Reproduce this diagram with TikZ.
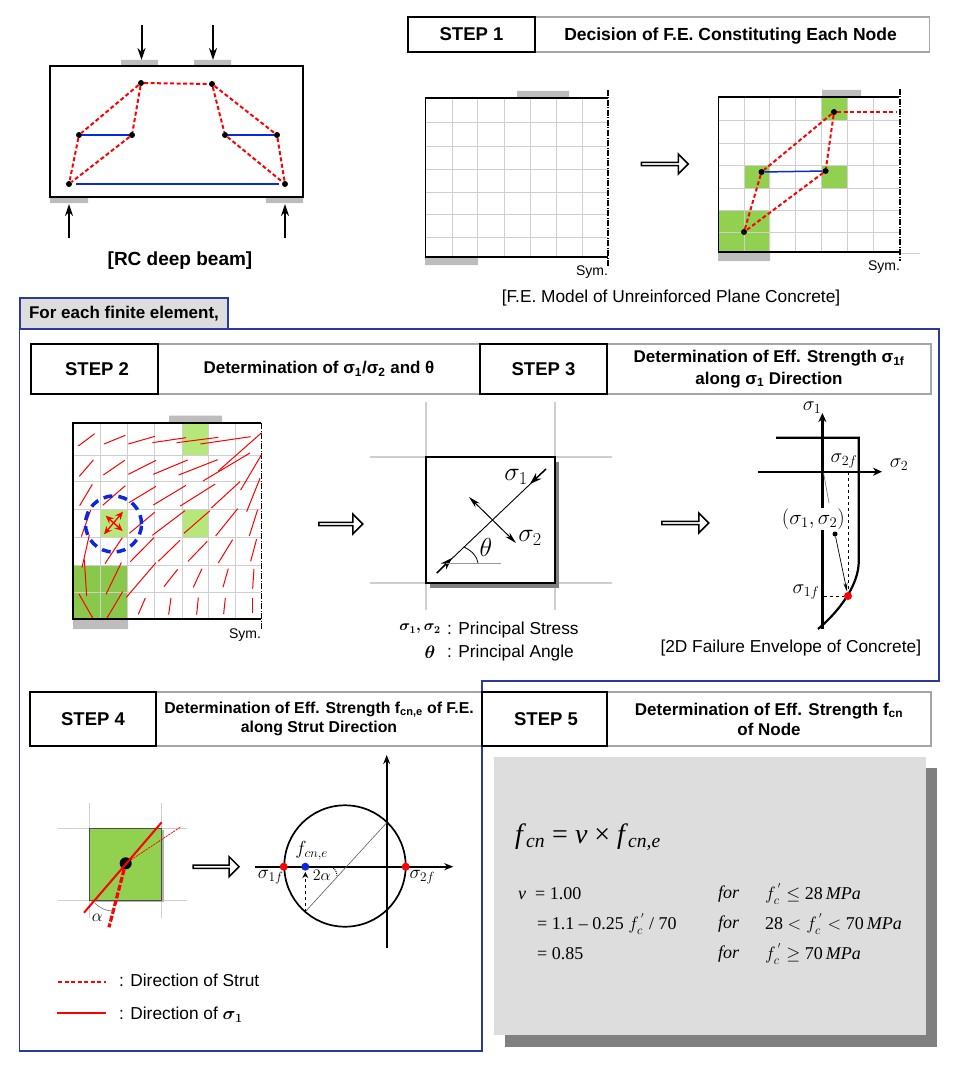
\documentclass[tikz,border=0pt]{standalone}
\usepackage{fix-cm}
\usepackage[no-math]{fontspec}
\setmainfont{Liberation Sans}
\newfontfamily\timesf{Liberation Serif}
\usepackage{amsmath}
\usepackage{tikz}
\usetikzlibrary{calc}
\usetikzlibrary{arrows.meta}
\usetikzlibrary{shapes.arrows}
\definecolor{platecol}{HTML}{BDBDBD}
\definecolor{gridcol}{HTML}{CFCFCF}
\definecolor{leafcol}{HTML}{92D050}
\definecolor{palecol}{HTML}{B5E77B}
\definecolor{deepcol}{HTML}{8AC84C}
\definecolor{framecol}{HTML}{2B3A9B}
\definecolor{panelcol}{HTML}{DDDDDD}
\definecolor{shadowcol}{HTML}{808080}
\definecolor{tiecol}{HTML}{0A28E0}
\newcommand{\fs}[1]{\fontsize{#1}{#1}\selectfont}
\tikzstyle{dot}=[circle,fill=black, minimum size = 6pt, inner sep=0pt]
\tikzstyle{plate}=[fill=platecol, draw=none]
\tikzstyle{strut}=[draw=red, line width=2pt, dash pattern=on 4pt off 2.5pt]
\tikzstyle{tie}=[tiecol, line width=1.5pt]
\tikzstyle{load}=[line width=2pt, -{Stealth[length=12pt,width=8pt]}]
\tikzstyle{gridline}=[gridcol, line width=1pt]
\tikzstyle{stepbox}=[draw=black, fill=white, line width=1.3pt, inner sep=0pt, font=\fs{18.5}\bfseries, align=center]
\tikzstyle{titlebox}=[draw=gray!70, fill=white, line width=1.3pt, inner sep=0pt, font=\fs{17}\bfseries, align=center]
\tikzstyle{hollow}=[draw=black, fill=white, line width=1.5pt, single arrow, minimum height=47pt, minimum width=20pt, single arrow head extend=4pt, single arrow head indent=0pt, inner sep=0pt]
\tikzstyle{lbl}=[inner sep=0pt, font=\fs{17.3}]
\tikzstyle{greek}=[inner sep=0pt, font=\fs{18}]
\tikzstyle{eqn}=[inner sep=0pt, anchor=west, font=\fs{18}\timesf]
\begin{document}
\begin{tikzpicture}[x=1pt,y=-1pt]
  \useasboundingbox (0,0) rectangle (958,1070);
  % deep beam
  \fill [plate] (121,60) rectangle (158,66) (194,60) rectangle (231,66) (50,197) rectangle (88,203) (266,197) rectangle (303,203);
  \draw [line width=2.5pt] (50,66) rectangle (303,197);
  \node (beamA) [dot] at (141,83) {};
  \node (beamB) [dot] at (212,84) {};
  \node (beamC) [dot] at (79,135) {};
  \node (beamD) [dot] at (132,135) {};
  \node (beamE) [dot] at (225,135) {};
  \node (beamF) [dot] at (277,135) {};
  \node (beamG) [dot] at (69,184) {};
  \node (beamH) [dot] at (285,184) {};
  \draw [strut] (beamA) -- (beamB);
  \draw [strut] (beamA) -- (beamC);
  \draw [strut] (beamA) -- (beamD);
  \draw [strut] (beamC) -- (beamG);
  \draw [strut] (beamD) -- (beamG);
  \draw [strut] (beamB) -- (beamE);
  \draw [strut] (beamB) -- (beamF);
  \draw [strut] (beamE) -- (beamH);
  \draw [strut] (beamF) -- (beamH);
  \draw [tie] (beamC) -- (beamD);
  \draw [tie] (beamE) -- (beamF);
  \draw [tie] ($(beamG)+(7,0)$) -- ($(beamH)+(-6,0)$);
  \foreach \x/\ya/\yb/\nm in {141.5/25/60/a,213/25/60/b,69/238/204/c,285/238/204/d} {
    \coordinate (from\nm) at (\x,\ya);
    \coordinate (to\nm) at (\x,\yb);
    \draw [load] (from\nm) -- (to\nm);
  }
  \node (beamcap) [inner sep=0pt, font=\fs{19}\bfseries] at (180,261) {[RC deep beam]};

  % step 1
  \node (titleone) [titlebox, minimum width=395pt, minimum height=35pt] at (732,34.5) {};
  \node (stepone) [stepbox, minimum width=127pt, minimum height=35pt] at (471.5,34.5) {STEP 1};
  \node (titleonetext) at (730.5,36) [inner sep=0pt, font=\fs{17.5}\bfseries] {Decision of F.E. Constituting Each Node};
  % plain model
  \fill [plate] (517,91) rectangle (569,98) (425,258) rectangle (478,265);
  \foreach \x in {452,477.6,504,530,556.6,582.6} \draw [gridline] (\x,98) -- (\x,257);
  \foreach \y in {123,146,169,192,214,237} \draw [gridline] (425,\y) -- (608,\y);
  \draw [line width=1.8pt] (608,98) -- (425.5,98) -- (425.5,257) -- (608,257);
  \draw [line width=1.2pt, dash pattern=on 6pt off 1.5pt on 1pt off 1.5pt] (608,90) -- (608,266);
  \node (symA) [lbl, font=\fs{14}] at (592,272) {Sym.};
  \node (arrowA) [hollow] at (664,164) {};
  % model with nodes
  \fill [plate] (822,90) rectangle (861,97) (718,252) rectangle (770,261);
  \fill [leafcol] (821,97) rectangle (847,120.7) (744,165) rectangle (770,188) (821,165) rectangle (847,188) (718,210) rectangle (770,252);
  \foreach \x in {744,769.5,795,821,847,873} \draw [gridline] (\x,97) -- (\x,252);
  \foreach \y in {120.7,143,165,188,210,232} \draw [gridline] (718,\y) -- (899,\y);
  \draw [gridline, line width=.6pt] (899,253) -- (920,253);
  \draw [line width=1.8pt] (899,97) -- (718.5,97) -- (718.5,252) -- (899,252);
  \draw [line width=1.2pt, dash pattern=on 6pt off 1.5pt on 1pt off 1.5pt] (900,89) -- (900,261);
  \node (nodeA) [dot] at (834,112) {};
  \node (nodeB) [dot] at (761.5,172) {};
  \node (nodeC) [dot] at (825.6,171) {};
  \node (nodeD) [dot] at (744,232) {};
  \coordinate (nodeE) at (896,112);
  \draw [strut] (nodeA) -- (nodeE);
  \draw [strut] (nodeA) -- (nodeB);
  \draw [strut] (nodeA) -- (nodeC);
  \draw [strut] (nodeB) -- (nodeD);
  \draw [strut] (nodeC) -- (nodeD);
  \draw [tie] (nodeB) -- (nodeC);
  \node (symB) [lbl, font=\fs{14}] at (884,267) {Sym.};
  \node (modelcap) [lbl] at (671,298) {[F.E. Model of Unreinforced Plane Concrete]};

  % frame for the element steps
  \draw [framecol, line width=1.2pt] (19.5,329) -- (939,329) -- (939,681) -- (482,681) -- (482,1051) -- (19.5,1051) -- cycle;
  \node (foreach) [draw=framecol, fill=panelcol, line width=1.2pt, minimum width=208pt, minimum height=31pt, inner sep=0pt, font=\fs{17}\bfseries] at (124,313.5) {\raisebox{-3pt}{For each finite element,}};

  % legend
  \coordinate (dashA) at (58.3,981.7);
  \coordinate (dashB) at (106,981.7);
  \coordinate (solidA) at (56.7,1013.3);
  \coordinate (solidB) at (106,1013.3);
  \draw [strut] (dashA) -- (dashB);
  \draw [draw=red, line width=2pt] (solidA) -- (solidB);
  \node (dashlbl) [lbl, anchor=west] at (119,980) {: Direction of Strut};
  \node (solidlbl) [lbl, anchor=west] at (119,1014.5) {: Direction of {\fs{18}$\boldsymbol{\sigma_1}$}};

  % step 2 and step 3
  \node (titletwo) [titlebox, minimum width=322pt, minimum height=50pt] at (319,369) {\raisebox{-1pt}{Determination of σ\textsubscript{1}/σ\textsubscript{2} and θ}};
  \node (titlethree) [titlebox, minimum width=324pt, minimum height=50pt] at (769,369) {Determination of Eff. Strength σ\textsubscript{1f}\\[5pt]along σ\textsubscript{1} Direction};
  \node (steptwo) [stepbox, minimum width=127pt, minimum height=50pt] at (94.5,369) {\hspace*{5pt}STEP 2};
  \node (stepthree) [stepbox, minimum width=127pt, minimum height=50pt] at (543.5,369) {STEP 3};
  % stress field
  \fill [plate] (169,415.7) rectangle (222,423) (73,620) rectangle (128,629);
  \fill [palecol] (182,423) rectangle (208,455) (182,509) rectangle (208,537) (100.7,509) rectangle (127,537);
  \fill [deepcol] (73,565) rectangle (127,619);
  \foreach \x in {100.7,127.3,154.7,182.3,208.3,235.3} \draw [gridline] (\x,423) -- (\x,619);
  \foreach \y in {455,481.7,509.3,537.3,565,592.7} \draw [gridline] (73,\y) -- (261,\y);
  \draw [line width=1.8pt] (261,423) -- (73.3,423) -- (73.3,619) -- (261,619);
  \draw [line width=1.2pt, dash pattern=on 6pt off 1.5pt on 1pt off 1.5pt] (261.5,423) -- (261.5,630);
  \begin{scope}[shift={(50,400)},x=.3333pt,y=-.3333pt]
    \foreach \a/\b/\c/\d in {85/138/134/101,162/132/226/106,235/132/315/109,307/128/408/113,380/128/505/112,451/132/602/110,505/213/635/98,
      88/229/130/180,160/225/224/181,235/223/318/181,310/223/413/180,386/225/503/179,459/243/600/159,572/270/634/165,
      89/317/127/253,158/316/226/257,237/308/318/259,310/315/408/256,391/318/496/252,484/324/570/245,590/335/630/235,
      94/410/122/330,238/400/314/337,307/406/405/332,402/400/480/332,497/408/563/326,598/408/623/329,
      96/503/118/405,165/491/217/413,241/485/312/413,325/484/390/421,414/484/472/424,505/489/548/419,602/484/620/417,
      110/588/103/478,168/583/214/488,229/592/318/488,342/560/383/508,430/562/456/506,519/562/535/506,608/566/612/507,
      128/654/87/582,171/654/218/575,265/643/286/594,356/644/363/594,440/644/445/593,521/642/526/594,608/640/608/593}
      \draw [red, line width=1pt] (\a,\b) -- (\c,\d);
    \coordinate (crossA) at (162,403);
    \coordinate (crossB) at (219,335);
    \coordinate (crossC) at (167,347);
    \coordinate (crossD) at (218,393);
    \draw [red, line width=1.3pt, {Stealth[length=8pt,width=7pt]}-{Stealth[length=8pt,width=7pt]}] (crossA) -- (crossB);
    \draw [red, line width=1.3pt, {Stealth[length=8pt,width=7pt]}-{Stealth[length=8pt,width=7pt]}] (crossC) -- (crossD);
  \end{scope}
  \draw [tiecol, line width=3.5pt, dash pattern=on 9pt off 6pt] (113.5,524) circle (28pt);
  \node (symC) [lbl, font=\fs{14}] at (245,635) {Sym.};
  \node (arrowB) [hollow, minimum height=44pt] at (340,524) {};
  % element
  \foreach \x in {426,555} \draw [gridline, line width=1.2pt] (\x,402) -- (\x,610);
  \foreach \y in {457,583} \draw [gridline, line width=1.2pt] (370,\y) -- (612,\y);
  \fill [shadowcol] (430,462) rectangle (559,588);
  \draw [fill=white, line width=1.5pt] (426,457) rectangle (555,583);
  \coordinate (sigA) at (436.8,573);
  \coordinate (sigB) at (546,469);
  \coordinate (sigC) at (469,497);
  \coordinate (sigD) at (516,543);
  \coordinate (sigE) at (452,558);
  \coordinate (sigF) at (530,484);
  \draw [line width=.9pt] (sigA) -- (sigB);
  \draw [line width=1pt, {Stealth[length=12pt,width=6pt]}-{Stealth[length=12pt,width=6pt]}] (sigC) -- (sigD);
  \draw [line width=1.4pt, -{Stealth[length=12pt,width=8pt]}] (sigA) -- (sigE);
  \draw [line width=1.4pt, -{Stealth[length=12pt,width=8pt]}] (sigB) -- (sigF);
  \draw [gray!80, line width=1pt] (446,563) -- (501,563);
  \draw [line width=.8pt] (464,547) .. controls (472,551) and (477,556) .. (478,563);
  \node (lblsigone) [greek, font=\fs{26}] at (516,477) {$\sigma_1$};
  \node (lblsigtwo) [greek, font=\fs{26}] at (530,538) {$\sigma_2$};
  \node (lbltheta) [greek, font=\fs{26}] at (486,547) {$\theta$};
  \node (lblpairb) [greek, font=\fs{15}] at (420,629) {$\boldsymbol{\sigma_1,\sigma_2}$};
  \node (lblstress) [lbl, anchor=west] at (447,630) {: Principal Stress};
  \node (lblthetab) [greek] at (430,652) {$\boldsymbol{\theta}$};
  \node (lblangle) [lbl, anchor=west] at (447,653) {: Principal Angle};
  \node (arrowC) [hollow] at (684.5,523) {};
  % envelope
  \coordinate (axA) at (822.4,629);
  \coordinate (axB) at (822.4,413);
  \coordinate (axC) at (758,471.7);
  \coordinate (axD) at (882,471.7);
  \draw [line width=2.2pt, -{Stealth[length=9pt,width=8pt]}] (axA) -- (axB);
  \draw [line width=2pt, -{Stealth[length=9pt,width=8pt]}] (axC) -- (axD);
  \draw [line width=2.2pt] (776,437.7) -- (858.7,437.7) -- (858.7,563) .. controls (858,583) and (843,608) .. (818,629);
  \coordinate (pZero) at (823.6,473);
  \coordinate (pOne) at (829,503);
  \draw [gray, line width=.7pt] (pZero) -- (pOne);
  \node (lblpair) [greek, fill=white, inner sep=1pt, font=\fs{21}] at (813.4,519) {$(\sigma_1,\sigma_2)$};
  \node (failpt) [circle, fill=red, minimum size=8pt, inner sep=0pt] at (848,596) {};
  \node (stresspt) [circle, fill=black, minimum size=5pt, inner sep=0pt] at (835,534) {};
  \coordinate (sigtwof) at (848,472);
  \coordinate (sigonef) at (823.6,596);
  \draw [line width=1pt, dashed] (sigtwof) -- (failpt);
  \draw [line width=1pt, dashed] (sigonef) -- (failpt);
  \draw [line width=.7pt, -{Stealth[length=9pt,width=4pt]}] (stresspt) -- (failpt);
  \node (lblA) [greek, font=\fs{20}] at (812,408) {$\sigma_1$};
  \node (lblB) [greek, font=\fs{20}] at (844,461) {$\sigma_{2f}$};
  \node (lblC) [greek, font=\fs{20}] at (899,465) {$\sigma_2$};
  \node (lblD) [greek, font=\fs{20}] at (806,592) {$\sigma_{1f}$};
  \node (envcap) [lbl] at (790.8,648) {[2D Failure Envelope of Concrete]};

  % step 4 and step 5
  \node (titlefour) [titlebox, minimum width=326pt, minimum height=54pt, font=\fs{15.8}\bfseries] at (319,719) {Determination of Eff. Strength f\textsubscript{cn,e} of F.E.\\[4pt]along Strut Direction};
  \node (titlefive) [titlebox, minimum width=324pt, minimum height=54pt] at (769,719) {Determination of Eff. Strength f\textsubscript{cn}\\[3pt]of Node};
  \node (stepfour) [stepbox, minimum width=126pt, minimum height=54pt] at (93,719) {STEP 4};
  \node (stepfive) [stepbox, minimum width=125pt, minimum height=54pt] at (544.5,719) {\hspace*{3pt}STEP 5};
  % element with strut
  \foreach \x in {89.3,161.7} \draw [gridline] (\x,803.3) -- (\x,918.3);
  \foreach \y in {828.3,900} \draw [gridline] (58.3,\y) -- (186.7,\y);
  \fill [gray!60] (91,830) rectangle (163.5,902);
  \draw [fill=leafcol, draw=black!70, line width=.9pt] (89.3,828.3) rectangle (161.7,900);
  \coordinate (dirA) at (84,912.7);
  \coordinate (dirB) at (161.7,822.3);
  \coordinate (dirC) at (181,826.7);
  \coordinate (dirD) at (109,927.3);
  \node (cent) [circle, fill=black, minimum size=12pt, inner sep=0pt] at (125.7,863.3) {};
  \draw [red, line width=2pt] (dirA) -- (dirB);
  \draw [red, line width=.8pt, dash pattern=on 2pt off 1pt] (cent) -- (dirC);
  \draw [red, line width=3.2pt, dash pattern=on 6pt off 2pt] (cent) -- (dirD);
  \draw [gray, line width=.7pt] (95,903.3) .. controls (100,908) and (106,911) .. (113.3,911);
  \node (lblalpha) [greek, font=\fs{17}] at (97.3,917.7) {$\alpha$};
  \node (arrowD) [hollow, minimum height=46pt] at (215.3,866.7) {};
  % mohr circle
  \draw [line width=1.7pt] (345,866) circle (60.7pt);
  \coordinate (axE) at (255,866.7);
  \coordinate (axF) at (453.3,866.7);
  \coordinate (axG) at (386.7,948.3);
  \coordinate (axH) at (386.7,755);
  \draw [line width=1.8pt, -{Stealth[length=9pt,width=7pt]}] (axE) -- (axF);
  \draw [line width=1.8pt, -{Stealth[length=9pt,width=7pt]}] (axG) -- (axH);
  \node (ptA) [circle, fill=red, minimum size=8pt, inner sep=0pt] at (283.7,866.7) {};
  \node (ptB) [circle, fill=red, minimum size=8pt, inner sep=0pt] at (405.7,866.7) {};
  \node (ptC) [circle, fill=tiecol, minimum size=8pt, inner sep=0pt] at (305.3,866.7) {};
  \coordinate (ptD) at (305.3,911.7);
  \coordinate (ptE) at (386.7,822.7);
  \coordinate (ptF) at (305.3,872);
  \draw [gray!70!black, line width=.6pt] (ptD) -- (ptE);
  \draw [line width=1.6pt, dashed, -{Stealth[length=6pt,width=6pt]}] (ptD) -- (ptF);
  \draw [line width=1pt, densely dotted] (331.7,866.7) .. controls (335,869) and (337,872) .. (337,875.7);
  \node (lblE) [greek, font=\fs{19}] at (311.7,851) {$f_{cn,e}$};
  \node (lblF) [greek, font=\fs{16}] at (321.7,875.7) {$2\alpha$};
  \node (lblG) [greek, font=\fs{19}] at (270.7,877) {$\sigma_{1f}$};
  \node (lblH) [greek, font=\fs{19}] at (422.3,877.3) {$\sigma_{2f}$};
  % formula panel
  \fill [shadowcol] (505,768) rectangle (937,1047);
  \fill [panelcol] (494,757) rectangle (926,1035);
  \node (eqmain) [eqn, font=\fs{28}\timesf] at (515,837) {\textit{f}\textsubscript{\textit{cn}} = \textit{ν} × \textit{f}\textsubscript{\textit{cn,e}}};
  \node (eqA) [eqn] at (518,894) {\textit{ν}\ \ = 1.00};
  \node (eqB) [eqn] at (537,924) {= 1.1 – 0.25 $f_c^{\,'}$ / 70};
  \node (eqC) [eqn] at (537,954) {= 0.85};
  \node (forA) [eqn, font=\fs{18}\timesf\itshape] at (718,894) {for};
  \node (forB) [eqn, font=\fs{18}\timesf\itshape] at (718,924) {for};
  \node (forC) [eqn, font=\fs{18}\timesf\itshape] at (718,954) {for};
  \node (condA) [eqn] at (765,894) {$f_c^{\,'}\leq$ 28\,\textit{MPa}};
  \node (condB) [eqn] at (765,924) {28 $<f_c^{\,'}<$ 70\,\textit{MPa}};
  \node (condC) [eqn] at (765,954) {$f_c^{\,'}\geq$ 70\,\textit{MPa}};
\end{tikzpicture}
\end{document}
